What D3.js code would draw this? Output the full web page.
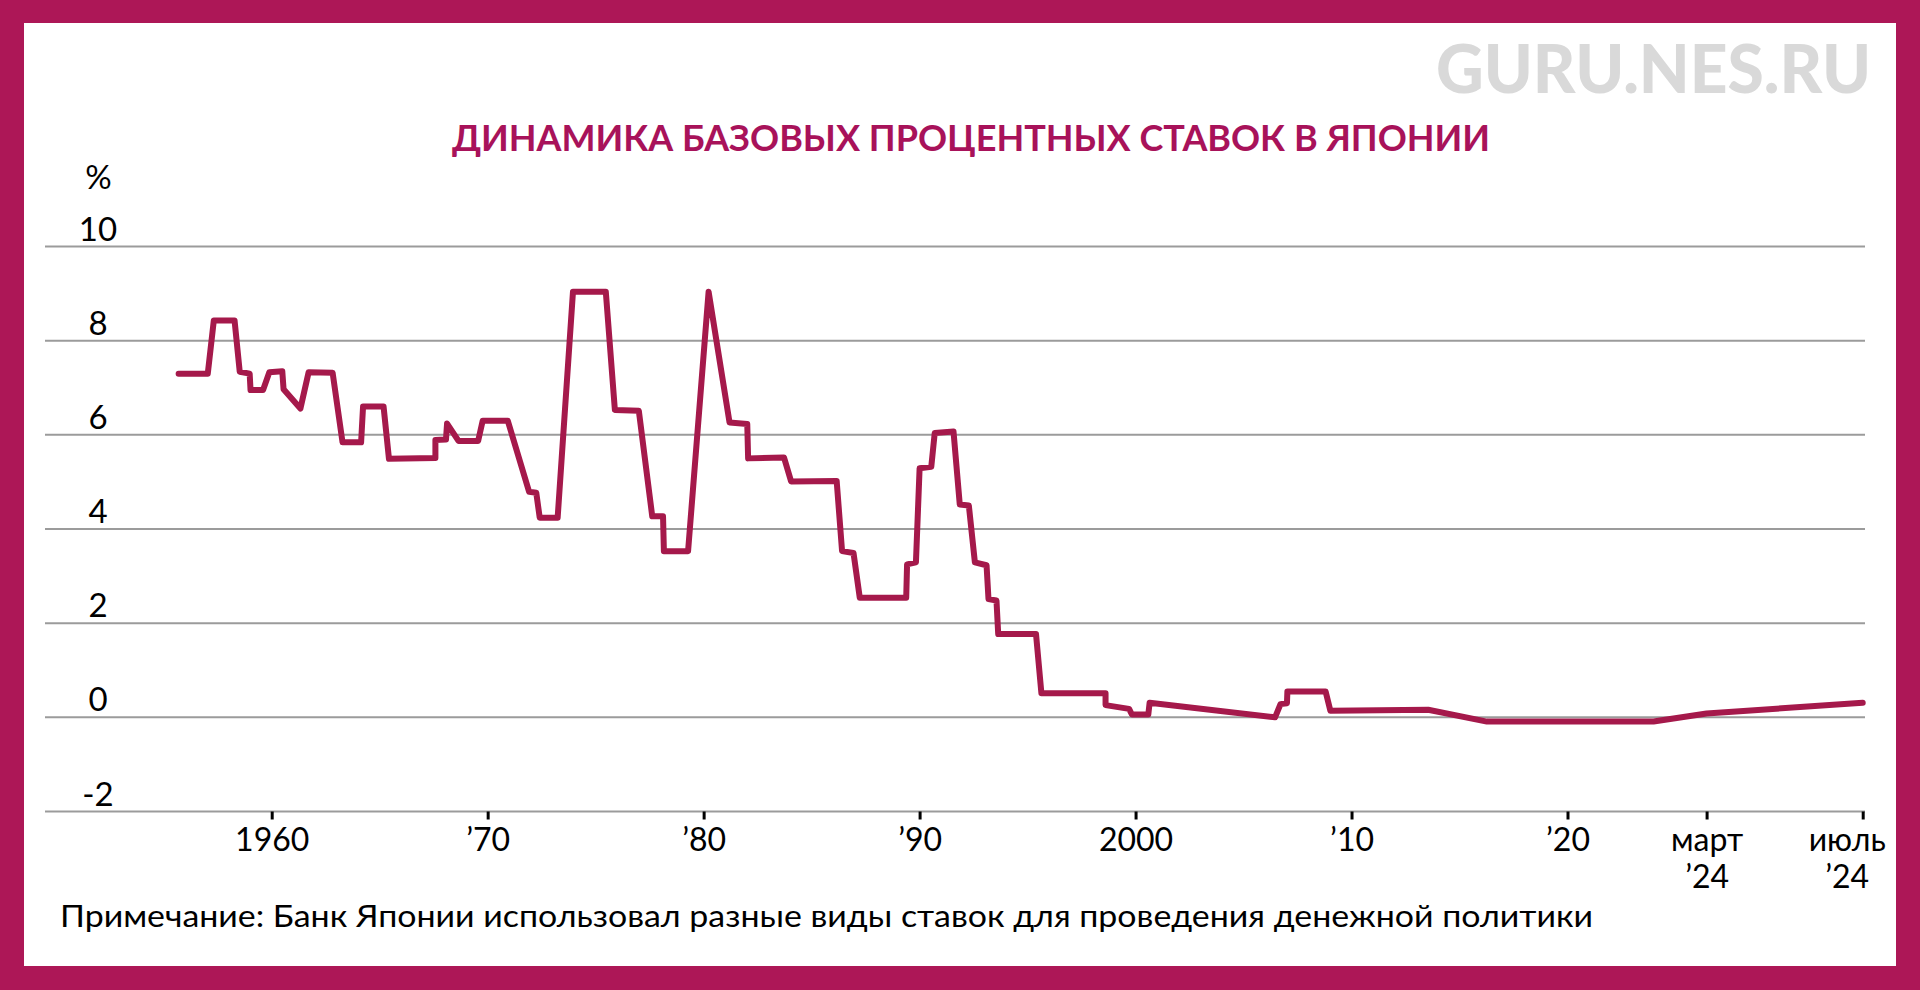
<!DOCTYPE html>
<html><head><meta charset="utf-8">
<script src="https://cdn.jsdelivr.net/npm/d3@7"></script>
<style>
body{margin:0;background:#fff}
svg{display:block}
text{font-family:Lato,"Noto Sans",sans-serif}
</style>
</head><body>
<svg id="c" width="1920" height="990"></svg>
<script>
// ---- data ----
const years = [1955.69,1957.04,1957.32,1958.28,1958.52,1958.98,1959.02,1959.60,1959.89,1960.49,1960.55,1961.33,1961.71,1962.82,1963.28,1964.14,1964.23,1965.18,1965.43,1967.58,1967.58,1968.07,1968.12,1968.65,1969.56,1969.77,1970.93,1971.92,1972.25,1972.41,1973.24,1973.95,1975.47,1975.89,1977.00,1977.62,1978.12,1978.16,1979.28,1980.23,1981.20,1982.02,1982.06,1983.72,1984.05,1986.16,1986.41,1986.94,1987.23,1989.38,1989.42,1989.83,1990.00,1990.54,1990.70,1991.57,1991.86,1992.28,1992.56,1993.10,1993.19,1993.56,1993.64,1995.39,1995.64,1998.61,1998.61,1999.70,1999.83,2000.59,2000.65,2006.46,2006.71,2007.01,2007.03,2008.80,2009.02,2013.55,2016.27,2022.58,2024.17,2024.50];
const rates = [7.30,7.30,8.43,8.43,7.34,7.30,6.95,6.95,7.33,7.35,6.97,6.56,7.33,7.32,5.84,5.84,6.60,6.60,5.49,5.51,5.89,5.90,6.24,5.87,5.87,6.30,6.30,4.79,4.77,4.24,4.24,9.04,9.04,6.53,6.51,4.27,4.27,3.53,3.53,9.04,6.26,6.23,5.50,5.52,5.01,5.02,3.53,3.49,2.54,2.54,3.25,3.29,5.29,5.32,6.04,6.07,4.52,4.50,3.29,3.23,2.51,2.48,1.77,1.77,0.51,0.51,0.26,0.18,0.06,0.06,0.31,0.00,0.28,0.30,0.55,0.55,0.14,0.16,-0.09,-0.09,0.08,0.31];
const yTicks = [-2,0,2,4,6,8,10];
const xTickValues = [1960,1970,1980,1990,2000,2010,2020,2024.17,2024.5];
const xTickLine1 = ["1960","’70","’80","’90","2000","’10","’20","март","июль"];
const xTickLine2 = ["","","","","","","","’24","’24"];
const title = "ДИНАМИКА БАЗОВЫХ ПРОЦЕНТНЫХ СТАВОК В ЯПОНИИ";
const watermark = "GURU.NES.RU";
const note = "Примечание: Банк Японии использовал разные виды ставок для проведения денежной политики";
const unit = "%";

// ---- drawing ----
const svg = d3.select("#c");
const W = 1920, H = 990;
const borderColor = "#ad1757", lineColor = "#a5194b", titleColor = "#a8125a";

svg.append("rect").attr("width", W).attr("height", H).attr("fill", borderColor);
svg.append("rect").attr("x", 24).attr("y", 23).attr("width", 1872).attr("height", 943).attr("fill", "#fff");

const x = d3.scaleLinear()
  .domain([1960, 2020, 2024.17, 2024.5])
  .range([271.7, 1567.5, 1706.6, 1862.7]);
const y = d3.scaleLinear().domain([-2, 10]).range([811.5, 246.5]);

const gridX0 = 45, gridX1 = 1865;

// watermark
svg.append("text").attr("x", 1871).attr("y", 92.5).attr("text-anchor", "end")
  .attr("font-size", 66).attr("font-weight", 900).attr("fill", "#d9d9d9")
  .attr("textLength", 435).attr("lengthAdjust", "spacingAndGlyphs").text(watermark);

// title
svg.append("text").attr("x", 971).attr("y", 150.5).attr("text-anchor", "middle")
  .attr("font-size", 37).attr("font-weight", 700).attr("fill", titleColor)
  .attr("textLength", 1038).attr("lengthAdjust", "spacingAndGlyphs").text(title);

// unit
svg.append("text").attr("x", 98.5).attr("y", 189).attr("text-anchor", "middle")
  .attr("font-size", 33).attr("fill", "#000").text(unit);

// gridlines + y labels
const grid = svg.append("g");
grid.selectAll("line").data(yTicks).join("line")
  .attr("x1", gridX0).attr("x2", gridX1)
  .attr("y1", d => y(d)).attr("y2", d => y(d))
  .attr("stroke", "#9b9b9b").attr("stroke-width", 2);
grid.selectAll("text").data(yTicks).join("text")
  .attr("x", 98).attr("y", d => y(d) - 6).attr("text-anchor", "middle")
  .attr("font-size", 33).attr("fill", "#000").text(d => d);

// x axis ticks
const axis = d3.axisBottom(x).tickValues(xTickValues).tickSize(8).tickFormat("");
const gx = svg.append("g").attr("transform", `translate(0,${y(-2)})`).call(axis);
gx.select(".domain").remove();
gx.selectAll(".tick line").attr("stroke", "#000").attr("stroke-width", 3);
gx.selectAll(".tick").each(function(d, i) {
  const dx = i === xTickValues.length - 1 ? -16 : 0;
  const t = d3.select(this).append("text")
    .attr("fill", "#000").attr("font-size", 32).attr("text-anchor", "middle")
    .attr("x", dx).attr("y", 39);
  t.append("tspan").attr("x", dx).attr("dy", 0).text(xTickLine1[i]);
  if (xTickLine2[i]) t.append("tspan").attr("x", dx).attr("dy", 37).text(xTickLine2[i]);
});

// line
const data = years.map((yr, i) => ({yr, v: rates[i]}));
const line = d3.line().x(d => x(d.yr)).y(d => y(d.v));
svg.append("path").datum(data).attr("d", line)
  .attr("fill", "none").attr("stroke", lineColor).attr("stroke-width", 6)
  .attr("stroke-linejoin", "round").attr("stroke-linecap", "round");

// note
svg.append("text").attr("x", 60).attr("y", 926.5).attr("font-size", 30).attr("fill", "#000")
  .attr("textLength", 1533).attr("lengthAdjust", "spacingAndGlyphs").text(note);
</script>
</body></html>
